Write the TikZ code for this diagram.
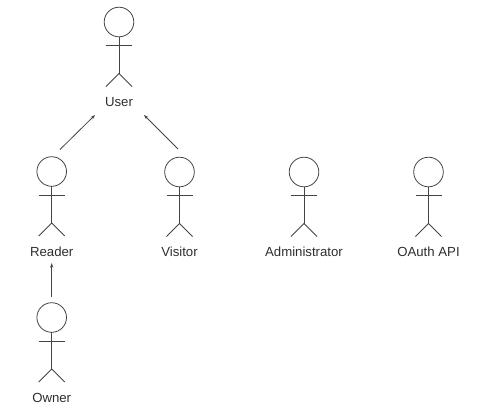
\documentclass[tikz,border=0pt]{standalone}
\usepackage{fontspec}
\setmainfont{Liberation Sans}
\usetikzlibrary{arrows.meta}
\definecolor{ink}{HTML}{444444}
\tikzset{
  actorline/.style={draw=ink,line width=0.6pt},
  actorhead/.style={circle,draw=ink,line width=0.6pt,minimum size=22.2pt,inner sep=0pt},
  actorlabel/.style={text=black!82,font=\fontsize{9.9}{12}\selectfont,inner sep=0pt,anchor=base},
  link/.style={draw=ink,line width=0.6pt,-{Stealth[length=3.5pt,width=2.4pt]}}
}
% name, head-centre x, head-centre y, text
\newcommand{\stickactor}[4]{%
  \node[actorhead] (#1) at (#2,#3) {};
  \coordinate (#1neck) at (#2,#3+14.8);
  \coordinate (#1hip) at (#2,#3+51.5);
  \coordinate (#1armL) at (#2-13,#3+23.5);
  \coordinate (#1armR) at (#2+13,#3+23.5);
  \coordinate (#1footL) at (#2-13,#3+64.5);
  \coordinate (#1footR) at (#2+13,#3+64.5);
  \draw[actorline] (#1neck) -- (#1hip);
  \draw[actorline] (#1armL) -- (#1armR);
  \draw[actorline] (#1footL) -- (#1hip) -- (#1footR);
  \node[actorlabel] (#1label) at (#2,#3+84.5) {#4};
}
\begin{document}
\begin{tikzpicture}[x=0.75pt,y=-0.75pt]
\useasboundingbox (0,0) rectangle (485,412);
\stickactor{user}{119}{22}{User}
\stickactor{reader}{51.7}{171.5}{Reader}
\stickactor{visitor}{179.5}{172}{Visitor}
\stickactor{admin}{304}{172}{Administrator}
\stickactor{oauth}{428.5}{172}{OAuth API}
\stickactor{owner}{51.7}{317.5}{Owner}
\coordinate (readerOut) at (60,149.5);
\coordinate (userInL) at (95,115);
\coordinate (visitorOut) at (178,149);
\coordinate (userInR) at (144,115);
\coordinate (ownerOut) at (51.7,297);
\coordinate (readerIn) at (51.7,263);
\draw[link] (readerOut) -- (userInL);
\draw[link] (visitorOut) -- (userInR);
\draw[link] (ownerOut) -- (readerIn);
\end{tikzpicture}
\end{document}
